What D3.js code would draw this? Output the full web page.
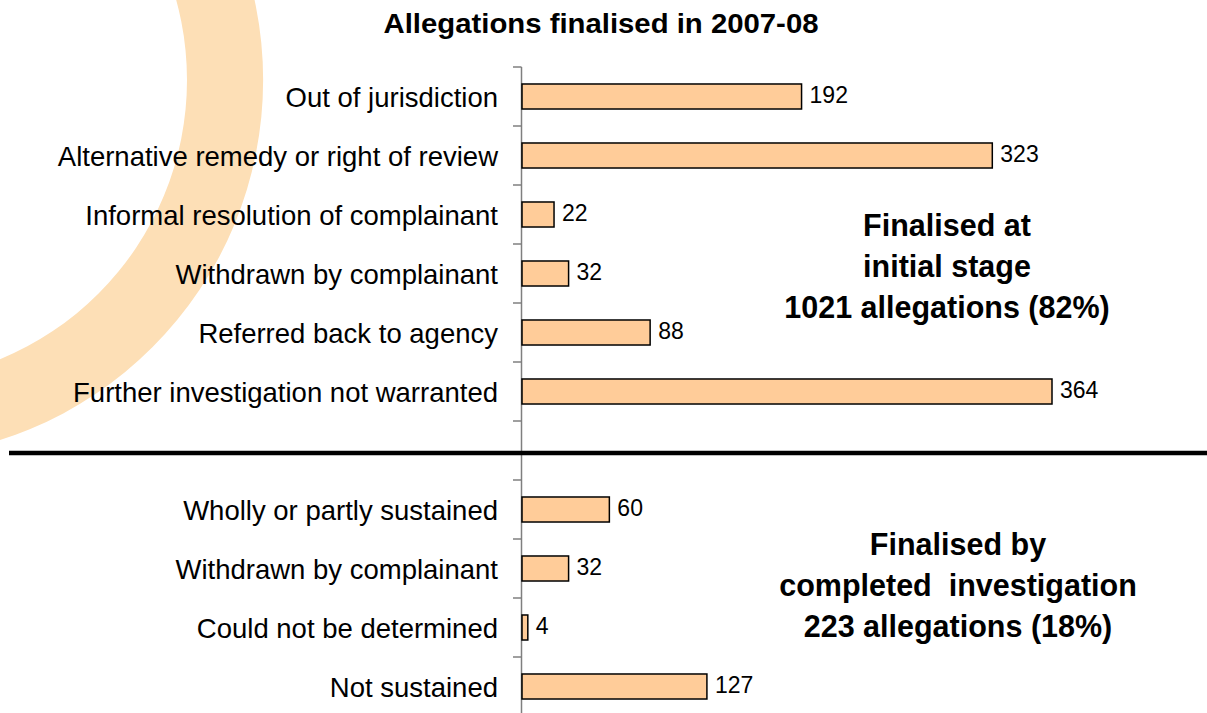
<!DOCTYPE html>
<html>
<head>
<meta charset="utf-8">
<script src="https://cdn.jsdelivr.net/npm/d3@7"></script>
<style>
  html, body { margin: 0; padding: 0; background: #fff; }
  svg { display: block; }
  text { font-family: Arial, "Liberation Sans", sans-serif; }
</style>
</head>
<body>
<svg id="chart" width="1207" height="713"></svg>
<script>
// ---- data ----
const title = "Allegations finalised in 2007-08";
const categories = [
  "Out of jurisdiction",
  "Alternative remedy or right of review",
  "Informal resolution of complainant",
  "Withdrawn by complainant",
  "Referred back to agency",
  "Further investigation not warranted",
  "",
  "Wholly or partly sustained",
  "Withdrawn by complainant",
  "Could not be determined",
  "Not sustained"
];
const values = [192, 323, 22, 32, 88, 364, null, 60, 32, 4, 127];
const groupNotes = [
  ["Finalised at", "initial stage", "1021 allegations (82%)"],
  ["Finalised by", "completed  investigation", "223 allegations (18%)"]
];

// ---- layout ----
const W = 1207, H = 713;
const svg = d3.select("#chart");
const ids = categories.map((c, i) => i);

const pad = 0.576;
const y = d3.scaleBand().domain(ids).range([67, 716]).paddingInner(pad).paddingOuter(pad / 2);
const x = d3.scaleLinear().domain([0, 364]).range([522, 1052]);

// decorative ring
svg.append("path")
  .attr("transform", "translate(-115,80)")
  .attr("fill", "#FDDFB6")
  .attr("d", d3.arc()({innerRadius: 302, outerRadius: 378, startAngle: 0, endAngle: 2 * Math.PI}));

// title
svg.append("text")
  .attr("x", 601).attr("y", 33)
  .attr("text-anchor", "middle")
  .attr("font-size", 27.5).attr("font-weight", "bold")
  .attr("textLength", 435).attr("lengthAdjust", "spacingAndGlyphs")
  .text(title);

// axis line and ticks (band boundaries)
const step = y.step();
const boundaries = ids.map(i => y(i) - step * pad / 2).concat([y(ids[ids.length - 1]) + y.bandwidth() + step * pad / 2]);
const ax = svg.append("g");
ax.append("line")
  .attr("x1", x(0) - 0.5).attr("x2", x(0) - 0.5)
  .attr("y1", boundaries[0]).attr("y2", H)
  .attr("stroke", "#7f7f7f").attr("stroke-width", 1.5);
ax.selectAll("line.tick").data(boundaries).join("line")
  .attr("class", "tick")
  .attr("x1", x(0) - 9).attr("x2", x(0) - 0.5)
  .attr("y1", d => d).attr("y2", d => d)
  .attr("stroke", "#7f7f7f").attr("stroke-width", 1.5);

// category labels
svg.selectAll("text.cat").data(ids.filter(i => categories[i])).join("text")
  .attr("class", "cat")
  .attr("x", 498)
  .attr("y", i => y(i) + y.bandwidth() / 2 + 10)
  .attr("text-anchor", "end")
  .attr("font-size", 27.5)
  .attr("fill", "#000")
  .text(i => categories[i]);

// bars
const barIds = ids.filter(i => values[i] != null);
svg.selectAll("rect.bar").data(barIds).join("rect")
  .attr("class", "bar")
  .attr("x", x(0))
  .attr("y", i => y(i))
  .attr("width", i => x(values[i]) - x(0))
  .attr("height", y.bandwidth())
  .attr("fill", "#FFCC99")
  .attr("stroke", "#000").attr("stroke-width", 1.5);

// value labels
svg.selectAll("text.val").data(barIds).join("text")
  .attr("class", "val")
  .attr("x", i => x(values[i]) + 8)
  .attr("y", i => y(i) + y.bandwidth() / 2 + 6)
  .attr("font-size", 23)
  .text(i => values[i]);

// separator at the blank category
const sepY = y(6) + y.bandwidth() / 2 + 2.5;
svg.append("line")
  .attr("x1", 9).attr("x2", W)
  .attr("y1", sepY).attr("y2", sepY)
  .attr("stroke", "#000").attr("stroke-width", 4.5);

// group notes
const noteAnchors = [{cx: 947, first: y(2) + y.bandwidth() / 2 + 21}, {cx: 958, first: y(7) + y.bandwidth() / 2 + 45}];
groupNotes.forEach((lines, g) => {
  const t = svg.append("text")
    .attr("text-anchor", "middle")
    .attr("font-size", 30.5).attr("font-weight", "bold");
  lines.forEach((ln, k) => {
    t.append("tspan")
      .attr("x", noteAnchors[g].cx)
      .attr("y", noteAnchors[g].first + k * 41)
      .attr("xml:space", "preserve")
      .text(ln);
  });
});
</script>
</body>
</html>
